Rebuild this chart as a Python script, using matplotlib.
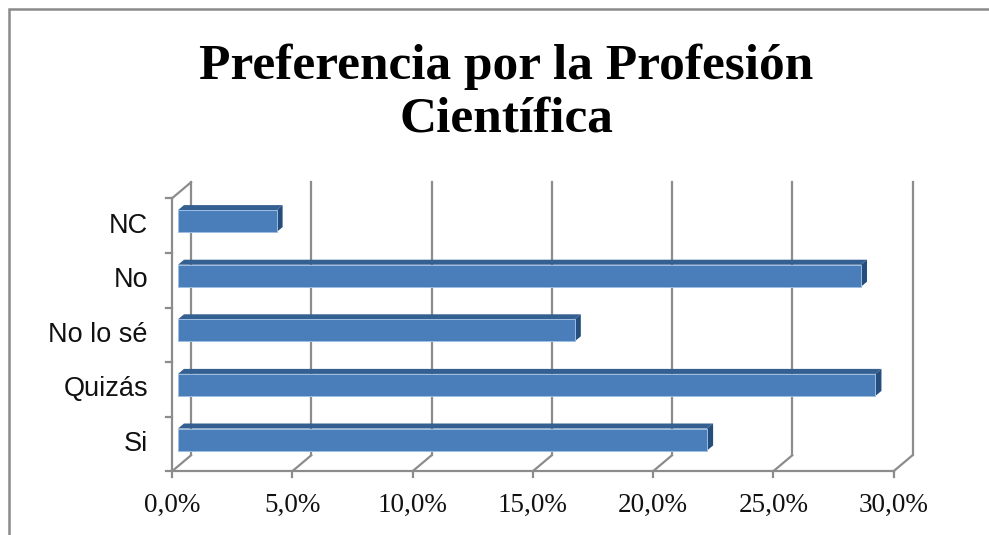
import matplotlib
matplotlib.use("Agg")
import matplotlib.pyplot as plt
from matplotlib.patches import Polygon, Rectangle

# ---- data ----
categories = ["Si", "Quizás", "No lo sé", "No", "NC"]
values = [22.0, 29.0, 16.5, 28.4, 4.1]
xticks = [0, 5, 10, 15, 20, 25, 30]
xtick_labels = ["0,0%", "5,0%", "10,0%", "15,0%", "20,0%", "25,0%", "30,0%"]
title = "Preferencia por la Profesión\nCientífica"

W, H = 989, 535
fig = plt.figure(figsize=(W / 100, H / 100), dpi=100)
fig.patch.set_facecolor("white")

# pixel scale of the data axes
PX = 24.05   # px per percent
PY = 54.6    # px per category
x0_px = 172.0
ybot_px = 471.3  # front floor line

left_px, right_px = x0_px, 935
top_px, bottom_px = 170, 485
ax = fig.add_axes([left_px / W, 1 - bottom_px / H, (right_px - left_px) / W, (bottom_px - top_px) / H])
ax.set_xlim(0, (right_px - left_px) / PX)
ax.set_ylim(-0.5 - (bottom_px - ybot_px) / PY, -0.5 + (ybot_px - top_px) / PY)
ax.axis("off")

# depth offsets (in data units)
DX = 19 / PX
DY = 16 / PY
n = len(categories)
ymin, ymax = -0.5, n - 0.5
grid_c = "#8c8c8c"
lw = 1.6

# back wall gridlines
for t, lab in zip(xticks, xtick_labels):
    ax.plot([t + DX, t + DX], [ymin + DY, ymax + DY], color=grid_c, lw=lw, clip_on=False, zorder=1)
    ax.plot([t, t + DX], [ymin, ymin + DY], color=grid_c, lw=lw, clip_on=False, zorder=1)
    ax.plot([t, t], [ymin, ymin - 6 / PY], color=grid_c, lw=lw, clip_on=False, zorder=1)
    ax.text(t, ymin - 34 / PY, lab, ha="center", va="center",
            fontsize=19.5, family="Liberation Serif", color="#111111", clip_on=False)

# front floor line
ax.plot([0, xticks[-1]], [ymin, ymin], color=grid_c, lw=lw, clip_on=False, zorder=2)
# left vertical axis (front) and top diagonal
ax.plot([0, 0], [ymin, ymax], color=grid_c, lw=lw, clip_on=False, zorder=2)
ax.plot([0, DX], [ymax, ymax + DY], color=grid_c, lw=lw, clip_on=False, zorder=2)
# category ticks
for k in range(n + 1):
    yk = ymin + k
    ax.plot([-6 / PX, 0], [yk, yk], color=grid_c, lw=lw, clip_on=False, zorder=2)

# category labels
for i, c in enumerate(categories):
    ax.text(-24 / PX, i, c, ha="right", va="center", fontsize=19.5,
            family="Liberation Sans", color="#111111", clip_on=False)

# bars (3D look)
bx = 6 / PX
by = 4.5 / PY
bh = 22 / PY
ddx = 6 / PX
ddy = 5 / PY
front_c = "#4a7ebb"
top_c = "#345f91"
side_c = "#264e7c"
edge_c = "#9dbde2"
for i, v in enumerate(values):
    yc = i + by
    yb = yc - bh / 2
    yt = yc + bh / 2
    xs = bx
    xe = v + bx
    ax.add_patch(Polygon([[xs, yt], [xe, yt], [xe + ddx, yt + ddy], [xs + ddx, yt + ddy]],
                         closed=True, facecolor=top_c, edgecolor="none", zorder=3, clip_on=False))
    ax.add_patch(Polygon([[xe, yb], [xe + ddx, yb + ddy], [xe + ddx, yt + ddy], [xe, yt]],
                         closed=True, facecolor=side_c, edgecolor="none", zorder=3, clip_on=False))
    ax.barh(yc, v, left=xs, height=bh, color=front_c, edgecolor=edge_c, linewidth=0.7, zorder=4)

# title
fig.text(506 / W, 1 - 93 / H, title, ha="center", va="center", fontsize=37,
         fontweight="bold", family="Liberation Serif", linespacing=1.18, color="black")

# chart border
fig.patches.append(Rectangle((9 / W, -0.2), 1.2, 1.2 - 9 / H, transform=fig.transFigure,
                             fill=False, edgecolor="#8a8a8a", linewidth=1.8))

fig.savefig("out.png", dpi=100, facecolor="white")
